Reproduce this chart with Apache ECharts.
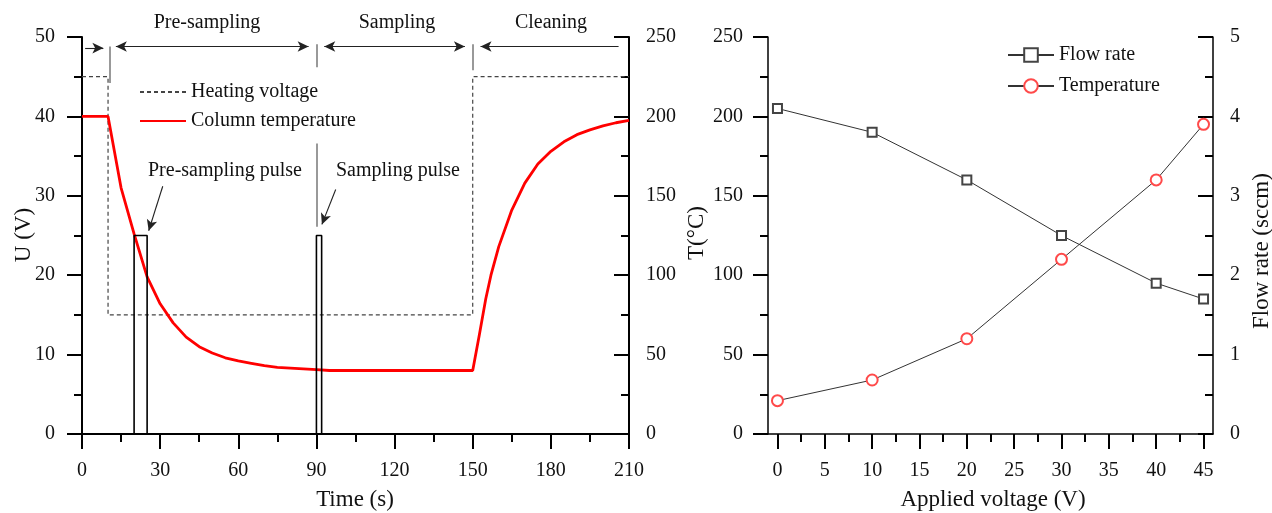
<!DOCTYPE html>
<html>
<head>
<meta charset="utf-8">
<script src="https://cdn.jsdelivr.net/npm/echarts@6/dist/echarts.min.js"></script>
<style>
  html, body { margin: 0; padding: 0; background: #fff; }
  #main { width: 1272px; height: 513px; }
</style>
</head>
<body>
<div id="main"></div>
<script>
// left panel: heating voltage, column temperature, pulses vs time
const heatTime = [0, 10, 10, 150, 150, 210]
const heatVolt = [45, 45, 15, 15, 45, 45]
const colTime = [0, 10, 15, 20, 25, 30, 35, 40, 45, 50, 55, 60, 65, 70, 75, 80, 85, 90, 95, 150,
    152.5, 155, 157, 160, 165, 170, 175, 180, 185, 190, 195, 200, 205, 210]
const colTemp = [200, 200, 155, 126, 99, 82, 70, 61, 55, 51, 48, 46, 44.5, 43, 42, 41.5, 41, 40.5, 40, 40,
    62, 85, 100, 118, 141, 158, 170, 178, 184, 188.5, 191.5, 194, 196, 197.5]
const pulseTime = [0, 20, 20, 25, 25, 90, 90, 92, 92, 210]
const pulseVolt = [0, 0, 25, 25, 0, 0, 25, 25, 0, 0]

// right panel: flow rate and temperature vs applied voltage
const voltage = [0, 10, 20, 30, 40, 45]
const flowRate = [4.1, 3.8, 3.2, 2.5, 1.9, 1.7]
const temperature = [21, 34, 60, 110, 160, 195]
const voltTicks = [0, 5, 10, 15, 20, 25, 30, 35, 40, 45]
const voltMinor = [2.5, 7.5, 12.5, 17.5, 22.5, 27.5, 32.5, 37.5, 42.5]

// annotation lines in (time, U) units: [t1, u1, t2, u2, startSymbol, endSymbol]
const guides = [
    [1.2, 48.6, 8.2, 48.6, 'none', 'arrow'],
    [13, 48.8, 87, 48.8, 'arrow', 'arrow'],
    [93, 48.8, 147, 48.8, 'arrow', 'arrow'],
    [206, 48.8, 153, 48.8, 'none', 'arrow'],
    [31, 31.2, 25.6, 25.6, 'none', 'arrow'],
    [97.4, 30.8, 92.1, 26.4, 'none', 'arrow']
]
const separators = [
    [10.7, 48.8, 10.7, 44.2],
    [90, 49.1, 90, 46.2],
    [150, 49.1, 150, 45.8],
    [90.1, 36.6, 90.1, 26.1]
]

const FONT = 'Liberation Serif'
const INK = '#111'

const chartDom = document.getElementById('main')
const myChart = echarts.init(chartDom)

const zip = (a, b) => a.map((v, i) => [v, b[i]])

function valueAxis(extra) {
    return Object.assign({
        type: 'value',
        splitLine: { show: false },
        axisLine: { show: true, onZero: false, lineStyle: { color: '#000', width: 2 } },
        axisTick: { show: true, length: 15, lineStyle: { color: '#000', width: 2 } },
        minorTick: { show: true, splitNumber: 2, length: 8, lineStyle: { color: '#000', width: 2 } },
        axisLabel: { color: INK, fontFamily: FONT, fontSize: 20 }
    }, extra)
}

function text(str, x, y, align) {
    return {
        type: 'text',
        x: x,
        y: y,
        style: {
            text: str,
            fill: INK,
            font: '20px "' + FONT + '"',
            align: align || 'center',
            verticalAlign: 'middle'
        }
    }
}

function title(str, x, y, rotate) {
    const t = text(str, x, y)
    t.style.font = '23px "' + FONT + '"'
    t.rotation = rotate ? Math.PI / 2 : 0
    return t
}

const markLines = guides.map(g => [
    { coord: [g[0], g[1]], symbol: g[4] },
    { coord: [g[2], g[3]], symbol: g[5] }
]).concat(separators.map(s => [
    { coord: [s[0], s[1]], symbol: 'none', lineStyle: { color: '#777', width: 1.5, type: 'solid' } },
    { coord: [s[2], s[3]], symbol: 'none' }
]))

const option = {
    animation: false,
    backgroundColor: '#fff',
    grid: [
        { left: 82, right: 643, top: 37, bottom: 79 },
        { left: 768, right: 59, top: 37, bottom: 79 }
    ],
    xAxis: [
        valueAxis({
            gridIndex: 0, min: 0, max: 210, interval: 30, position: 'bottom',
            axisLabel: { color: INK, fontFamily: FONT, fontSize: 20, margin: 27 }
        }),
        valueAxis({
            gridIndex: 1, min: -1, max: 46, position: 'bottom',
            axisLine: { show: true, onZero: false, lineStyle: { color: '#000', width: 1.5 } },
            axisTick: { show: true, length: 15, customValues: voltTicks, lineStyle: { color: '#000', width: 2 } },
            minorTick: { show: false },
            axisLabel: { color: INK, fontFamily: FONT, fontSize: 20, margin: 27, customValues: voltTicks }
        }),
        valueAxis({
            gridIndex: 1, min: -1, max: 46, position: 'bottom',
            axisLine: { show: false, onZero: false },
            axisTick: { show: true, length: 8, customValues: voltMinor, lineStyle: { color: '#000', width: 2 } },
            minorTick: { show: false },
            axisLabel: { show: false }
        })
    ],
    yAxis: [
        valueAxis({
            gridIndex: 0, min: 0, max: 50, interval: 10, position: 'left',
            axisLabel: { color: INK, fontFamily: FONT, fontSize: 20, margin: 27 }
        }),
        valueAxis({
            gridIndex: 0, min: 0, max: 250, interval: 50, position: 'right',
            axisTick: { show: true, inside: true, length: 15, lineStyle: { color: '#000', width: 2 } },
            axisLabel: { color: INK, fontFamily: FONT, fontSize: 20, margin: 17 }
        }),
        valueAxis({
            gridIndex: 1, min: 0, max: 250, interval: 50, position: 'left',
            axisLine: { show: true, onZero: false, lineStyle: { color: '#000', width: 1.5 } },
            axisLabel: { color: INK, fontFamily: FONT, fontSize: 20, margin: 25 }
        }),
        valueAxis({
            gridIndex: 1, min: 0, max: 5, interval: 1, position: 'right',
            axisLine: { show: true, onZero: false, lineStyle: { color: '#000', width: 1.5 } },
            axisTick: { show: true, inside: true, length: 15, lineStyle: { color: '#000', width: 2 } },
            axisLabel: { color: INK, fontFamily: FONT, fontSize: 20, margin: 17 }
        })
    ],
    legend: [
        {
            data: ['Heating voltage', 'Column temperature'],
            orient: 'vertical',
            left: 134, top: 77,
            itemWidth: 46, itemHeight: 14, itemGap: 9,
            itemStyle: { opacity: 0 },
            textStyle: { color: INK, fontFamily: FONT, fontSize: 20, lineHeight: 20 },
            selectedMode: false
        },
        {
            data: ['Flow rate', 'Temperature'],
            orient: 'vertical',
            left: 1002, top: 40,
            itemWidth: 46, itemHeight: 17, itemGap: 11,
            textStyle: { color: INK, fontFamily: FONT, fontSize: 20, lineHeight: 20 },
            selectedMode: false
        }
    ],
    series: [
        {
            name: 'Heating voltage',
            type: 'line',
            xAxisIndex: 0, yAxisIndex: 0,
            data: zip(heatTime, heatVolt),
            symbol: 'none',
            lineStyle: { color: '#444', width: 1.2, type: [4, 3] },
            itemStyle: { color: '#444' }
        },
        {
            name: 'Column temperature',
            type: 'line',
            xAxisIndex: 0, yAxisIndex: 1,
            data: zip(colTime, colTemp),
            symbol: 'none',
            lineStyle: { color: '#ff0000', width: 2.8 },
            itemStyle: { color: '#ff0000' }
        },
        {
            name: 'pulse',
            type: 'line',
            xAxisIndex: 0, yAxisIndex: 0,
            data: zip(pulseTime, pulseVolt),
            symbol: 'none',
            lineStyle: { color: '#000', width: 1.6 },
            markLine: {
                silent: true,
                animation: false,
                symbolSize: [8, 11],
                label: { show: false },
                lineStyle: { color: '#222', width: 1.1, type: 'solid' },
                data: markLines
            }
        },
        {
            name: 'Flow rate',
            type: 'line',
            xAxisIndex: 1, yAxisIndex: 3,
            data: zip(voltage, flowRate),
            symbol: 'emptyRect',
            symbolSize: 9,
            lineStyle: { color: '#333', width: 1 },
            itemStyle: { color: '#444', borderWidth: 1 }
        },
        {
            name: 'Temperature',
            type: 'line',
            xAxisIndex: 1, yAxisIndex: 2,
            data: zip(voltage, temperature),
            symbol: 'emptyCircle',
            symbolSize: 11,
            lineStyle: { color: '#333', width: 1 },
            itemStyle: { color: '#ff4a4a', borderWidth: 1 }
        }
    ],
    graphic: [
        text('Pre-sampling', 207, 23),
        text('Sampling', 397, 23),
        text('Cleaning', 551, 23),
        text('Pre-sampling pulse', 148, 171, 'left'),
        text('Sampling pulse', 336, 171, 'left'),
        title('U (V)', 24, 235, true),
        title('Time (s)', 355, 500),
        title('T(\u00b0C)', 697, 233, true),
        title('Applied voltage (V)', 993, 500),
        title('Flow rate (sccm)', 1262, 251, true)
    ]
}

myChart.setOption(option)
</script>
</body>
</html>
